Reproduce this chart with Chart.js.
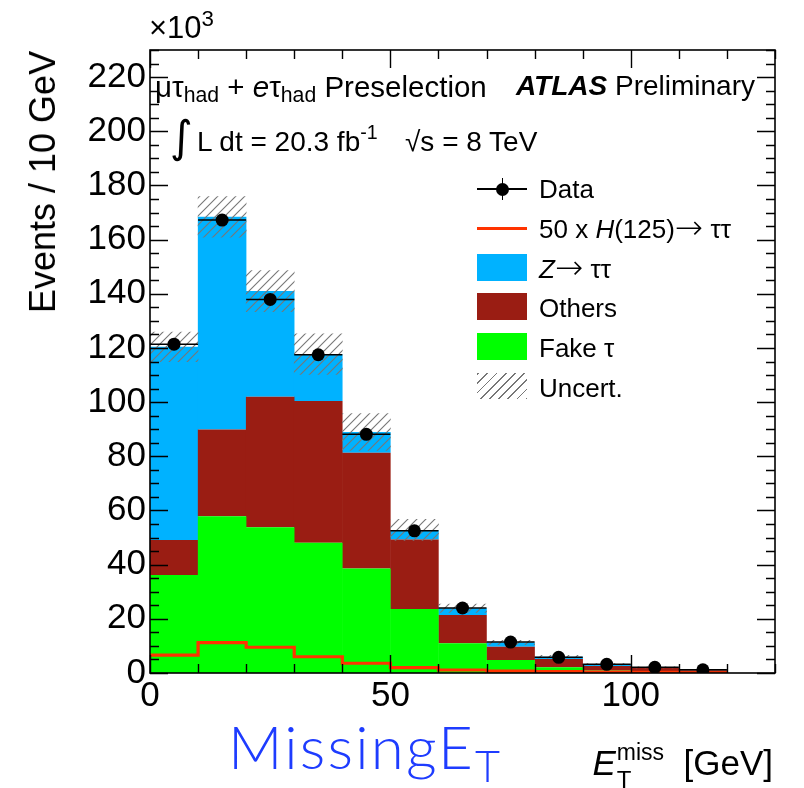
<!DOCTYPE html>
<html>
<head>
<meta charset="utf-8">
<script src="https://cdn.jsdelivr.net/npm/chart.js@4.4.1/dist/chart.umd.min.js"></script>
<style>
  html, body { margin:0; padding:0; background:#fff; }
  #wrap { position:relative; width:804px; height:788px; overflow:hidden; }
  #c { position:absolute; left:0; top:0; }
  .t { position:absolute; white-space:nowrap; font-family:"Liberation Sans", Arial, sans-serif; line-height:1; color:#000; }
  .t sub { font-size:0.72em; vertical-align:-0.25em; line-height:0; }
  .t sup { font-size:0.7em; vertical-align:0.6em; line-height:0; }
  .arr { font-family:"DejaVu Sans", sans-serif; font-weight:200; font-size:1.3em; line-height:0; vertical-align:-0.04em; }
  .sw { position:absolute; }
</style>
</head>
<body>
<div id="wrap">
  <canvas id="c" width="804" height="788"></canvas>

  <div class="t" style="left:149px; top:12px; font-size:31px;">×10<sup style="font-size:0.72em;vertical-align:0.55em">3</sup></div>

  <div class="t" id="ytitle" style="left:42.5px; top:182px; font-size:36px; transform:translate(-50%,-50%) rotate(-90deg);">Events / 10 GeV</div>

  <div class="t" style="left:155px; top:72px; font-size:29.5px;">μτ<sub>had</sub> + <i>e</i>τ<sub>had</sub> Preselection</div>
  <div class="t" style="right:49px; top:72px; font-size:28px;"><b><i>ATLAS</i></b> Preliminary</div>

  <div class="t" style="left:170px; top:115px; font-size:44px; font-family:'DejaVu Sans';">∫</div>
  <div class="t" style="left:197px; top:128px; font-size:28px;">L dt = 20.3 fb<sup>-1</sup></div>
  <div class="t" style="left:405px; top:128px; font-size:28px;">√s = 8 TeV</div>

  <!-- legend -->
  <div class="sw" style="left:477px; top:188px; width:50px; height:1.5px; background:#000;"></div>
  <div class="sw" style="left:501.5px; top:178px; width:1.5px; height:22px; background:#000;"></div>
  <div class="sw" style="left:495.5px; top:182.5px; width:13px; height:13px; border-radius:50%; background:#000;"></div>
  <div class="t" style="left:539px; top:176px; font-size:26px;">Data</div>

  <div class="sw" style="left:477px; top:226.5px; width:50px; height:3px; background:#ff3300;"></div>
  <div class="t" style="left:539px; top:216px; font-size:26px;">50 x <i>H</i>(125)<span class="arr">→</span> ττ</div>

  <div class="sw" style="left:477px; top:254px; width:50px; height:27px; background:#00b2ff;"></div>
  <div class="t" style="left:539px; top:256px; font-size:26px;"><i>Z</i><span class="arr">→</span> ττ</div>

  <div class="sw" style="left:477px; top:293px; width:50px; height:27px; background:#9a1d13;"></div>
  <div class="t" style="left:539px; top:295px; font-size:26px;">Others</div>

  <div class="sw" style="left:477px; top:333px; width:50px; height:27px; background:#00ff00;"></div>
  <div class="t" style="left:539px; top:335px; font-size:26px;">Fake τ</div>

  <div class="sw" style="left:477px; top:373px; width:50px; height:26px; background:repeating-linear-gradient(-45deg, #777 0px, #777 1.2px, transparent 1.2px, transparent 6.5px);"></div>
  <div class="t" style="left:539px; top:375px; font-size:26px;">Uncert.</div>

  <!-- axis titles -->
  <div class="t" style="right:31px; top:745px; font-size:35px;"><i>E</i><span style="display:inline-block; position:relative; width:58px; height:1px;"><span style="position:absolute; left:1px; top:-6px; font-size:24px; line-height:1;">T</span><span style="position:absolute; left:1px; top:-33px; font-size:23px; line-height:1;">miss</span></span> [GeV]</div>

  <div class="t" style="left:228px; top:716px; font-size:60px; letter-spacing:2.2px; font-family:Lato, 'Noto Sans', sans-serif; color:#1e3cff; font-weight:300;">MissingE<span style="font-size:0.72em; vertical-align:-0.3em; line-height:0;">T</span></div>
</div>

<script>
// ---- data (thousands of events per 10 GeV bin) ----
const binEdges  = [0, 10, 20, 30, 40, 50, 60, 70, 80, 90, 100, 110, 120];
const fakeTau   = [36.2, 57.9, 53.8, 48.1, 38.6, 23.6, 11.0, 4.8, 2.1, 0.9, 0.5, 0.3];
const others    = [12.9, 32.0, 48.2, 52.3, 42.7, 25.7, 10.4, 4.9, 3.1, 1.7, 1.3, 0.7];
const ztautau   = [71.3, 78.5, 39.0, 17.3, 7.7, 3.5, 2.5, 1.6, 0.8, 0.6, 0.3, 0.1];
const dataEvents= [121.4, 167.2, 137.9, 117.5, 88.1, 52.5, 24.0, 11.4, 5.8, 3.2, 2.1, 1.2];
const higgs50   = [6.6, 11.2, 9.5, 6.0, 3.6, 2.0, 1.1, 0.7, 0.5, 0.3, 0.2, 0.1];
const uncert    = [5.5, 7.5, 7.6, 7.5, 6.8, 3.9, 1.5, 0.8, 0.5, 0.3, 0.2, 0.1];

// axis settings
const xMin = 0, xMax = 130, xMajor = 50, xMinor = 10;
const yMin = 0, yMax = 230, yMajor = 20, yMinor = 5;

const centers = binEdges.slice(0, -1).map((e, i) => (e + binEdges[i + 1]) / 2);
const totals = fakeTau.map((v, i) => v + others[i] + ztautau[i]);

// hatch pattern for the uncertainty band
function makeHatch() {
  const s = 9;
  const pc = document.createElement('canvas');
  pc.width = s; pc.height = s;
  const g = pc.getContext('2d');
  g.strokeStyle = '#777';
  g.lineWidth = 1.1;
  g.beginPath();
  g.moveTo(0, s); g.lineTo(s, 0);
  g.moveTo(-2, 2); g.lineTo(2, -2);
  g.moveTo(s - 2, s + 2); g.lineTo(s + 2, s - 2);
  g.stroke();
  return g.createPattern(pc, 'repeat');
}

const frameTicks = {
  id: 'frameTicks',
  afterDatasetsDraw(chart) {
    const { ctx, chartArea: a, scales: { x, y } } = chart;
    ctx.save();
    ctx.strokeStyle = '#000';
    // data horizontal (bin width) error bars
    ctx.lineWidth = 1.5;
    dataEvents.forEach((v, i) => {
      const py = y.getPixelForValue(v);
      ctx.beginPath();
      ctx.moveTo(x.getPixelForValue(binEdges[i]), py);
      ctx.lineTo(x.getPixelForValue(binEdges[i + 1]), py);
      ctx.stroke();
    });
    // frame
    ctx.lineWidth = 1.6;
    ctx.strokeRect(a.left, a.top, a.right - a.left, a.bottom - a.top);
    ctx.lineWidth = 1.4;
    for (let v = yMin; v <= yMax; v += yMinor) {
      const p = Math.round(y.getPixelForValue(v)) + 0.5;
      const L = v % yMajor === 0 ? 18 : 9;
      ctx.beginPath();
      ctx.moveTo(a.left, p); ctx.lineTo(a.left + L, p);
      ctx.moveTo(a.right, p); ctx.lineTo(a.right - L, p);
      ctx.stroke();
    }
    for (let v = xMin; v <= xMax; v += xMinor) {
      const p = Math.round(x.getPixelForValue(v)) + 0.5;
      const L = v % xMajor === 0 ? 18 : 9;
      ctx.beginPath();
      ctx.moveTo(p, a.bottom); ctx.lineTo(p, a.bottom - L);
      ctx.moveTo(p, a.top); ctx.lineTo(p, a.top + L);
      ctx.stroke();
    }
    ctx.restore();
  }
};

const barCommon = { type: 'bar', stack: 'bkg', grouped: false, barPercentage: 1.01, categoryPercentage: 1, borderWidth: 0, order: 3 };

new Chart(document.getElementById('c'), {
  type: 'bar',
  data: {
    datasets: [
      Object.assign({ label: 'Fake τ', backgroundColor: '#00ff00',
        data: centers.map((c, i) => ({ x: c, y: fakeTau[i] })) }, barCommon),
      Object.assign({ label: 'Others', backgroundColor: '#9a1d13',
        data: centers.map((c, i) => ({ x: c, y: others[i] })) }, barCommon),
      Object.assign({ label: 'Z→ττ', backgroundColor: '#00b2ff',
        data: centers.map((c, i) => ({ x: c, y: ztautau[i] })) }, barCommon),
      { type: 'bar', label: 'Uncert.', stack: 'unc', grouped: false, barPercentage: 1, categoryPercentage: 1,
        borderWidth: 0, order: 1, backgroundColor: makeHatch(),
        data: centers.map((c, i) => ({ x: c, y: [totals[i] - uncert[i], totals[i] + uncert[i]] })) },
      { type: 'line', label: '50 x H(125)→ττ', stack: 'sig', order: 2, stepped: true,
        borderColor: '#ff3300', borderWidth: 3.2, pointRadius: 0, fill: false,
        data: binEdges.map((e, i) => ({ x: e, y: higgs50[Math.min(i, higgs50.length - 1)] })) },
      { type: 'scatter', label: 'Data', stack: 'data', order: 0,
        backgroundColor: '#000', borderColor: '#000', pointRadius: 6.5, pointBorderWidth: 0,
        data: centers.map((c, i) => ({ x: c, y: dataEvents[i] })) }
    ]
  },
  options: {
    responsive: false,
    animation: false,
    devicePixelRatio: 1,
    layout: { padding: { left: 0, right: 29, top: 50, bottom: 0 } },
    plugins: { legend: { display: false }, tooltip: { enabled: false } },
    scales: {
      x: {
        type: 'linear', min: xMin, max: xMax, stacked: true, offset: false,
        grid: { display: false, drawTicks: false, tickLength: 0 }, border: { display: false },
        ticks: { stepSize: xMajor, includeBounds: false, padding: 2, maxRotation: 0,
          color: '#000', font: { family: 'Liberation Sans', size: 35 } },
        afterFit: s => { s.height = 115; }
      },
      y: {
        type: 'linear', min: yMin, max: yMax, stacked: true,
        grid: { display: false, drawTicks: false, tickLength: 0 }, border: { display: false },
        ticks: { stepSize: yMajor, includeBounds: false, padding: 4,
          color: '#000', font: { family: 'Liberation Sans', size: 35 } },
        afterFit: s => { s.width = 150; }
      }
    }
  },
  plugins: [frameTicks]
});
</script>
</body>
</html>
